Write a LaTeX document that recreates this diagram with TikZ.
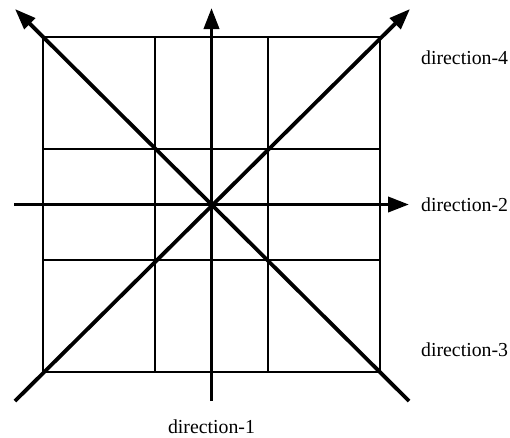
\documentclass[tikz,border=0pt]{standalone}
\usepackage{fontspec}
\setmainfont{Liberation Serif}
\usetikzlibrary{arrows.meta}
\begin{document}
\begin{tikzpicture}[x=1pt,y=-1pt,
  gridline/.style={line width=1.8pt,black},
  axis/.style={line width=3.8pt,black},
  axisarrow/.style={axis,-{Triangle[length=21pt,width=15pt]}},
  lbl/.style={font=\fontsize{19.8}{22}\selectfont,inner sep=0pt}]
\useasboundingbox (0,0) rectangle (510,437);
% grid
\coordinate (TL) at (43,37);
\coordinate (BR) at (380,372);
\draw[gridline] (TL) rectangle (BR);
\draw[gridline] (155.3,37) -- (155.3,372);
\draw[gridline] (267.7,37) -- (267.7,372);
\draw[gridline] (43,148.7) -- (380,148.7);
\draw[gridline] (43,260.3) -- (380,260.3);
% axes
\coordinate (C) at (211.5,204.5);
\coordinate (vS) at (211.5,401);
\coordinate (vN) at (211.5,8);
\coordinate (hW) at (14,204.5);
\coordinate (hE) at (409,204.5);
\coordinate (dSW) at (15,401);
\coordinate (dNE) at (410,9);
\coordinate (dSE) at (409,401);
\coordinate (dNW) at (15,9);
\draw[axisarrow] (vS) -- (vN);
\draw[axisarrow] (hW) -- (hE);
\draw[axisarrow] (dSW) -- (dNE);
\draw[axisarrow] (dSE) -- (dNW);
% labels
\node[lbl,anchor=west] (d4) at (421,58) {direction-4};
\node[lbl,anchor=west] (d2) at (421,204.5) {direction-2};
\node[lbl,anchor=west] (d3) at (421,350) {direction-3};
\node[lbl] (d1) at (211.5,427) {direction-1};
\end{tikzpicture}
\end{document}
